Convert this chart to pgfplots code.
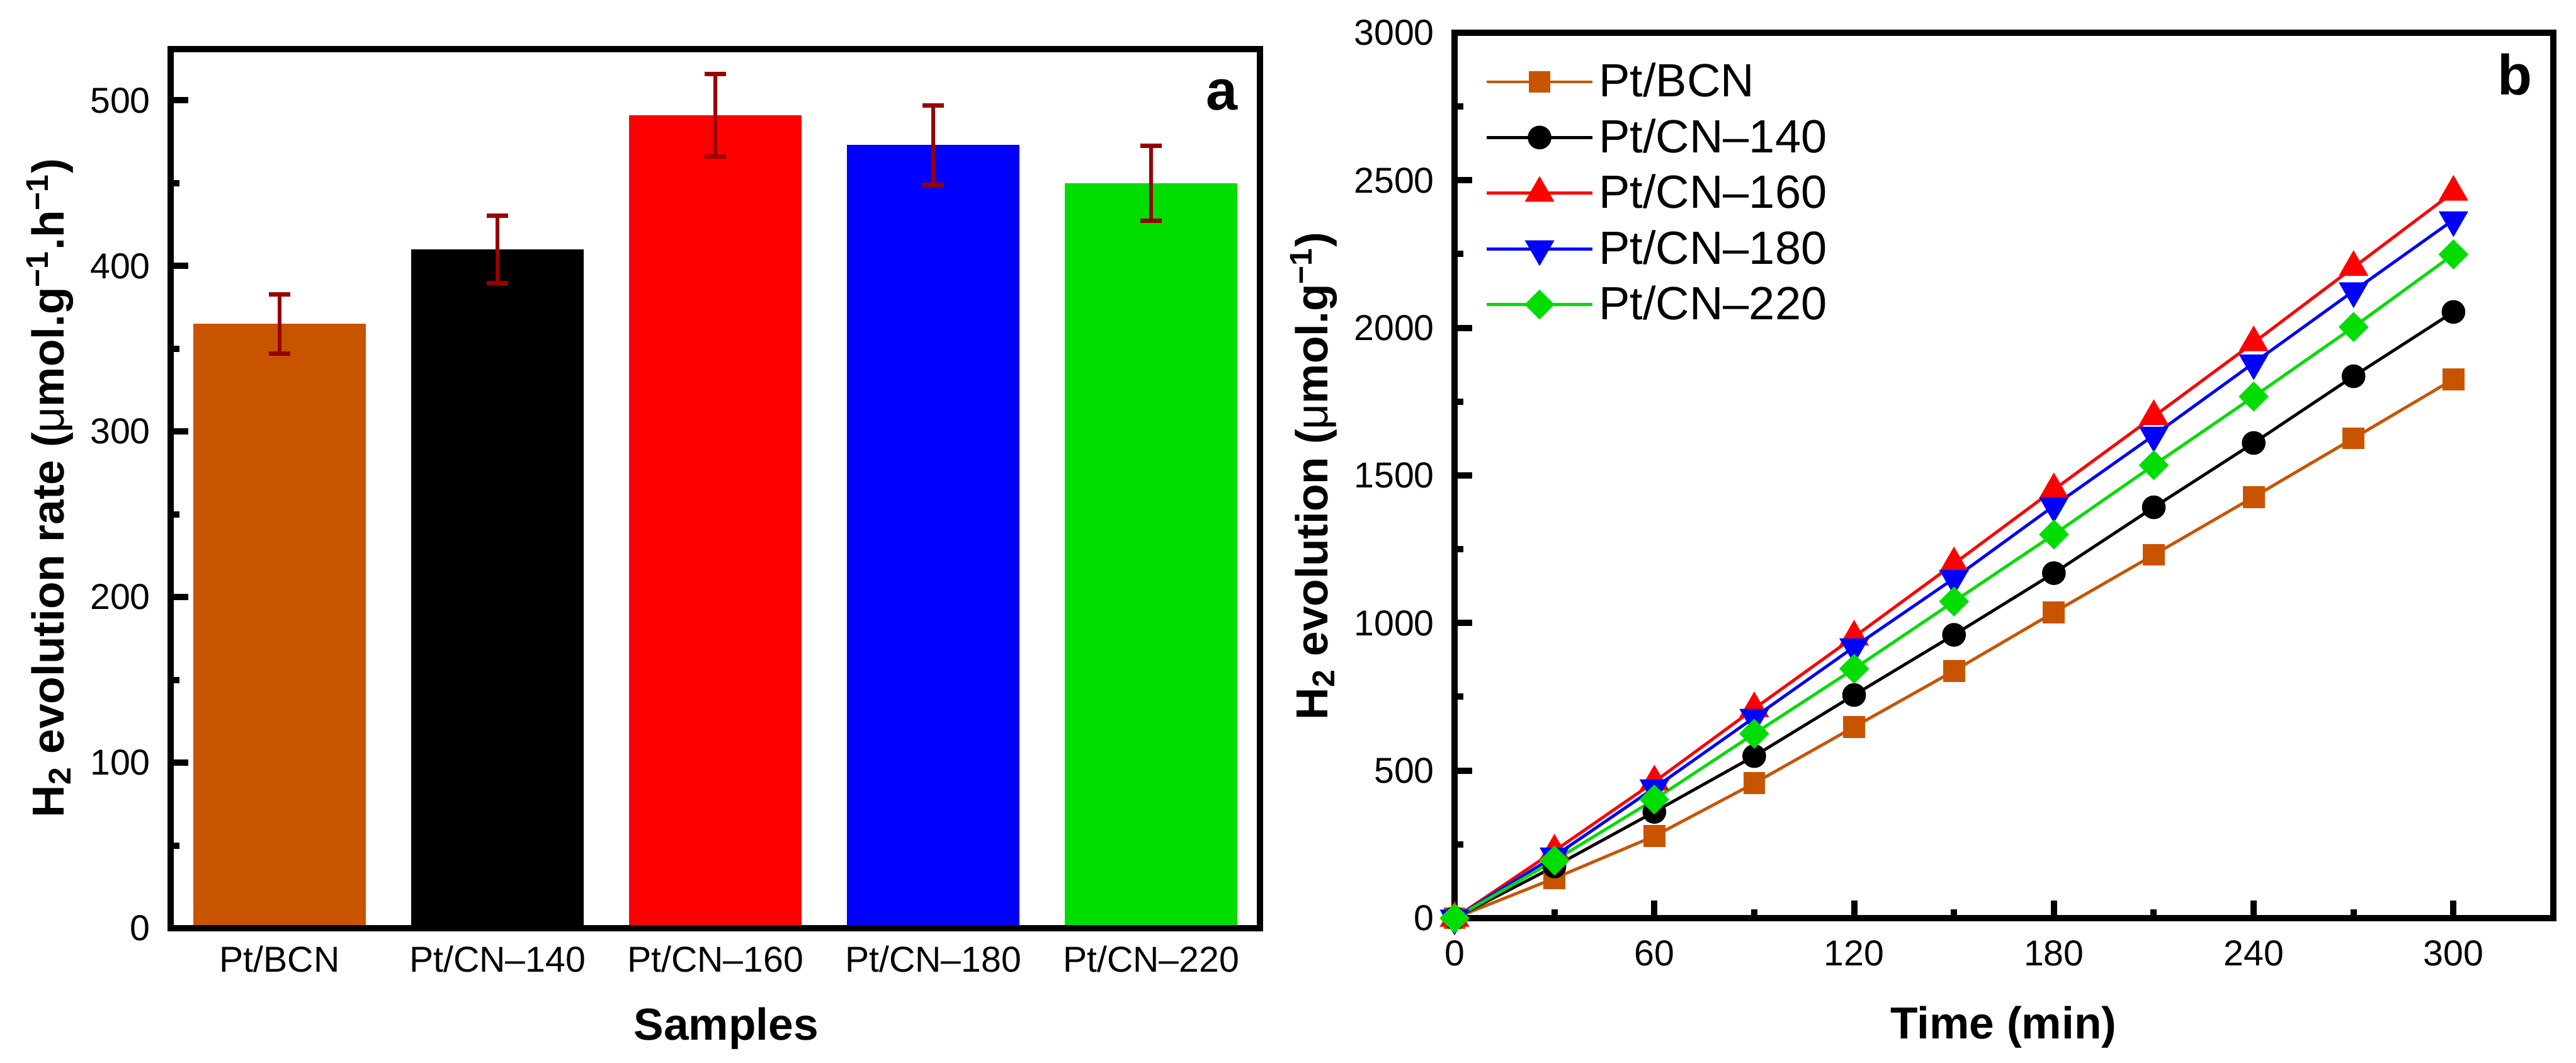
\documentclass[border=0pt]{standalone}
\usepackage{fontspec}
\setmainfont{Liberation Sans}
\usepackage{pgfplots}
\pgfplotsset{compat=1.18}

\definecolor{cbcn}{RGB}{200,84,0}
\definecolor{cgreen}{RGB}{0,221,0}
\definecolor{errred}{RGB}{153,0,0}

\newcommand{\tickfont}{\fontsize{14.3}{17}\selectfont}
\newcommand{\labfont}{\fontsize{17.8}{21}\selectfont\bfseries}

\pgfplotsset{
  panel/.style={
    scale only axis,
    axis on top,
    line width=2.5pt,
    axis line style={line width=2.5pt},
    tick style={line width=2.5pt, black},
    tick align=inside,
    major tick length=7pt,
    minor tick length=3.5pt,
    xtick pos=bottom, ytick pos=left,
    tick label style={font=\tickfont},
    /pgf/number format/assume math mode=true,
    /pgf/number format/1000 sep={},
    scaled ticks=false,
    yticklabel style={xshift=-3.5pt},
  },
  errs/.style={
    error bars/.cd, y dir=both, y explicit,
    error bar style={line width=1.5pt, color=errred},
    error mark options={rotate=90, mark size=4.2pt, line width=1.75pt, color=errred},
  },
}

\begin{document}
\begin{tikzpicture}
\useasboundingbox (0,0) rectangle (1022.75pt,422pt);

% panel a: evolution rate
\begin{axis}[panel,
  at={(67.75pt,53.5pt)}, anchor=south west,
  width=432.5pt, height=349pt,
  xmin=0.5, xmax=5.5, ymin=0, ymax=531,
  xtick={1,2,3,4,5},
  xticklabels={Pt/BCN,Pt/CN--140,Pt/CN--160,Pt/CN--180,Pt/CN--220},
  xticklabel style={yshift=4.5pt},
  every major x tick/.append style={draw=none},
  ytick={0,100,...,500}, minor y tick num=1,
  ybar, bar width=0.79,
  every axis x label/.style={at={(axis description cs:0.51,-0.1275)}, anchor=base, font=\labfont},
  every axis y label/.style={at={(axis description cs:-0.0977,0.5007)}, rotate=90, anchor=base, font=\labfont},
  xlabel={Samples},
  ylabel={H\textsubscript{2} evolution rate ({\mdseries μ}mol.g\textsuperscript{−1}.h\textsuperscript{−1})},
]
\addplot[fill=cbcn, draw=none, bar shift=0, errs] coordinates {(1,365) +- (0,18)};
\addplot[fill=black, draw=none, bar shift=0, errs] coordinates {(2,410) +- (0,20.5)};
\addplot[fill=red, draw=none, bar shift=0, errs] coordinates {(3,491) +- (0,25)};
\addplot[fill=blue, draw=none, bar shift=0, errs] coordinates {(4,473) +- (0,24)};
\addplot[fill=cgreen, draw=none, bar shift=0, errs] coordinates {(5,450) +- (0,22.5)};
\node[anchor=base, font=\fontsize{22.5}{26}\selectfont\bfseries] at (axis description cs:0.965,0.931) {a};
\end{axis}

% panel b: cumulative evolution
\begin{axis}[panel,
  at={(577.5pt,57.5pt)}, anchor=south west,
  width=436.25pt, height=351.5pt,
  xmin=0, xmax=330, ymin=0, ymax=3000,
  xtick={0,60,...,300}, minor x tick num=1,
  xticklabel style={yshift=-4.2pt},
  ytick={0,500,...,3000}, minor y tick num=1,
  every axis x label/.style={at={(axis description cs:0.4997,-0.136)}, anchor=base, font=\labfont},
  every axis y label/.style={at={(axis description cs:-0.1152,0.4993)}, rotate=90, anchor=base, font=\labfont},
  xlabel={Time (min)},
  ylabel={H\textsubscript{2} evolution ({\mdseries μ}mol.g\textsuperscript{−1})},
  legend style={at={(axis description cs:0.025,0.975)}, anchor=north west,
    draw=none, fill=none, inner sep=0pt, row sep=3.2pt,
    nodes={inner sep=2pt}, font=\fontsize{18.5}{22}\selectfont},
  legend cell align=left,
  legend image code/.code={\draw[mark repeat=2, mark phase=2, #1] plot coordinates {(0pt,0pt) (21pt,0pt) (42pt,0pt)};},
  every axis plot/.append style={line width=1.2pt},
]
\addplot[color=cbcn, mark=square*, mark size=3.75pt] coordinates {
  (0,0) (30,135) (60,278) (90,457) (120,648) (150,838) (180,1036) (210,1231) (240,1427) (270,1626) (300,1826)};
\addlegendentry{Pt/BCN}
\addplot[color=black, mark=*, mark size=4.1pt] coordinates {
  (0,0) (30,175) (60,360) (90,549) (120,756) (150,960) (180,1169) (210,1392) (240,1610) (270,1836) (300,2054)};
\addlegendentry{Pt/CN--140}
\addplot[color=red, mark=triangle*, mark size=5.6pt] coordinates {
  (0,0) (30,228) (60,462) (90,710) (120,953) (150,1201) (180,1452) (210,1700) (240,1950) (270,2205) (300,2460)};
\addlegendentry{Pt/CN--160}
\addplot[color=blue, mark=triangle*, mark size=5.6pt, mark options={rotate=180}] coordinates {
  (0,0) (30,210) (60,441) (90,680) (120,919) (150,1151) (180,1397) (210,1636) (240,1881) (270,2125) (300,2366)};
\addlegendentry{Pt/CN--180}
\addplot[color=cgreen, mark=square*, mark size=3.6pt, mark options={rotate=45}] coordinates {
  (0,0) (30,195) (60,402) (90,625) (120,845) (150,1073) (180,1300) (210,1535) (240,1767) (270,2003) (300,2249)};
\addlegendentry{Pt/CN--220}
\node[anchor=base, font=\fontsize{22.5}{26}\selectfont\bfseries] at (axis description cs:0.965,0.930) {b};
\end{axis}
\end{tikzpicture}
\end{document}
